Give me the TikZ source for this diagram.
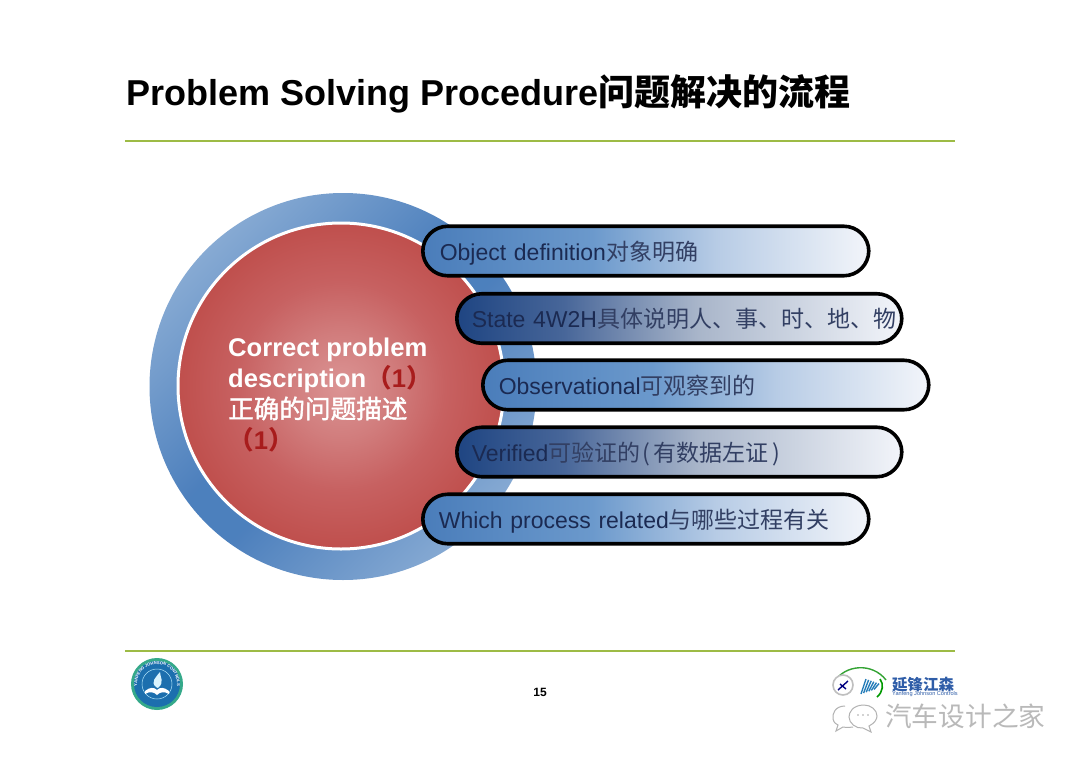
\documentclass[tikz,border=0pt]{standalone}
\usepackage{fontspec}
\setmainfont{Liberation Sans}
\newfontfamily\cjk{Noto Sans CJK SC}
\newfontfamily\cjkmed[FakeBold=1.5]{Noto Sans CJK SC}
\usetikzlibrary{decorations.text}
\definecolor{rulegreen}{HTML}{9DBB45}
\definecolor{navytext}{HTML}{1B2A52}
\definecolor{darkred}{HTML}{A81C1C}
\definecolor{logoblue}{HTML}{1C6FAE}
\definecolor{logogreen}{HTML}{35A98A}
\definecolor{ylogo}{HTML}{2F5DA8}
\pgfdeclareradialshading{redball}{\pgfpoint{0bp}{0bp}}{
  rgb(0bp)=(0.86,0.58,0.58);
  rgb(8bp)=(0.82,0.49,0.49);
  rgb(16bp)=(0.78,0.38,0.38);
  rgb(25bp)=(0.75,0.31,0.30);
  rgb(100bp)=(0.75,0.31,0.30)}
\pgfdeclarehorizontalshading{pilllight}{100bp}{
  rgb(0bp)=(0.29,0.49,0.73);
  rgb(25bp)=(0.29,0.49,0.73);
  rgb(44bp)=(0.42,0.60,0.80);
  rgb(58bp)=(0.72,0.80,0.90);
  rgb(75bp)=(0.95,0.96,0.98);
  rgb(100bp)=(0.95,0.96,0.98)}
\pgfdeclarehorizontalshading{pilldark}{100bp}{
  rgb(0bp)=(0.12,0.27,0.51);
  rgb(25bp)=(0.12,0.27,0.51);
  rgb(37bp)=(0.28,0.40,0.60);
  rgb(52bp)=(0.66,0.71,0.79);
  rgb(75bp)=(0.95,0.96,0.98);
  rgb(100bp)=(0.95,0.96,0.98)}
\pgfdeclarehorizontalshading{ringshade}{100bp}{
  rgb(0bp)=(0.56,0.69,0.84);
  rgb(22bp)=(0.56,0.69,0.84);
  rgb(46bp)=(0.30,0.50,0.74);
  rgb(54bp)=(0.30,0.50,0.74);
  rgb(78bp)=(0.56,0.69,0.84);
  rgb(100bp)=(0.56,0.69,0.84)}
\tikzset{
  x=1pt,y=-1pt,
  pillbox/.style={draw=black,line width=3.6pt,rounded corners=25pt,
    minimum width=#1,minimum height=49.5pt,inner sep=0pt,anchor=west,
    text width=#1,align=left,font=\fontsize{23}{27}\selectfont,text=navytext},
  pilllightbox/.style={pillbox=#1,shading=pilllight},
  pilldarkbox/.style={pillbox=#1,shading=pilldark},
  rulefine/.style={draw=rulegreen,line width=1.6pt},
}
\newcommand{\ch}[1]{{\cjk\color{navytext!90!white}#1}}
\newcommand{\pilltext}[2]{\hspace*{#1}\raisebox{-9.3pt}[0pt][0pt]{#2}}
\begin{document}
\begin{tikzpicture}
\useasboundingbox (0,0) rectangle (1080,764);
\fill[white] (0,0) rectangle (1080,764);
% title
\node[anchor=west,inner sep=0pt,font=\fontsize{36}{40}\selectfont\bfseries,text=black] (title) at (126,93.5)
  {Problem Solving Procedure{\cjk 问题解决的流程}};
\coordinate (tl) at (125,141); \coordinate (tr) at (955,141);
\coordinate (bl) at (125,651); \coordinate (br) at (955,651);
\draw[rulefine] (tl) -- (tr);
\draw[rulefine] (bl) -- (br);
% circles
\node[circle,minimum size=387pt,inner sep=0pt,shading=ringshade,shading angle=-45] (ring) at (343,386.5) {};
\node[circle,minimum size=326pt,inner sep=0pt,draw=white,line width=3pt,shading=redball] (ball) at (341,386) {};
\node[anchor=north west,inner sep=0pt,align=left,text=white,font=\fontsize{25.6}{31}\selectfont\bfseries] (ctext) at (228,337.5)
  {Correct problem\\description{\cjk\color{darkred}（}{\color{darkred}1}{\cjk\color{darkred}）}\\{\mdseries\cjkmed 正确的问题描述}\\{\cjk\color{darkred}（}{\color{darkred}1}{\cjk\color{darkred}）}};
% pills
\node[pilllightbox=446pt] (p1) at (421,251) {\pilltext{17pt}{Object definition\ch{对象明确}}};
\node[pilldarkbox=445pt] (p2) at (455,318.5) {\pilltext{15pt}{State 4W2H\ch{具体说明人、事、时、地、物}}};
\node[pilllightbox=446pt] (p3) at (481,385) {\pilltext{16pt}{Observational\ch{可观察到的}}};
\node[pilldarkbox=445pt] (p4) at (455,452) {\pilltext{15pt}{Verified\ch{可验证的\hspace{2pt}(\hspace{3pt}有数据左证\hspace{4pt})}}};
\node[pilllightbox=446pt] (p5) at (421,519) {\pilltext{16pt}{Which process related\ch{与哪些过程有关}}};
% page number
\node[inner sep=0pt,font=\fontsize{12}{14}\selectfont\bfseries] (pg) at (540,692) {15};
% left logo
\node[circle,minimum size=52pt,inner sep=0pt,fill=logogreen] (lg) at (157,684) {};
\node[circle,minimum size=46pt,inner sep=0pt,fill=logoblue] (lg2) at (157,684) {};
\node[circle,minimum size=30pt,inner sep=0pt,fill=logoblue,draw=white!70!cyan,line width=.5pt] (lg3) at (157,684) {};
\fill[white] (145,691) .. controls (150,687) and (154,687) .. (157,690) .. controls (160,687) and (164,687) .. (169,691) -- (169,694) .. controls (164,691) and (160,692) .. (157,695) .. controls (154,692) and (150,691) .. (145,694) -- cycle;
\fill[white!85!cyan] (156,687) .. controls (150,682) and (156,677) .. (160,672) .. controls (160,677) and (165,682) .. (158,688) -- cycle;
\path[postaction={decorate,decoration={text along path,text align=center,
   text={|\fontsize{4.2}{5}\selectfont\bfseries\color{white}|YANFENG JOHNSON CONTROLS}}}]
   (138,690) arc[start angle=163,end angle=377,radius=20];
% right logo
\draw[draw=green!55!black!80!white,line width=1.4pt] (835,681) .. controls (845,665) and (872,662) .. (886,680);
\node[circle,minimum size=20pt,inner sep=0pt,draw=gray!50,line width=1.6pt,fill=white] (rl1) at (843,685) {};
\draw[draw=blue!50!black,line width=1.4pt] (838,690) -- (848,681) (840,684) -- (846,689);
\foreach \d in {0,2.6,5.2,7.8,10.4,13}{
  \draw[ylogo!80!cyan,line width=1.4pt] (861+\d,694-\d*.35) -- (866+\d,679+\d*.35);
}
\draw[green!60!black,line width=1.6pt] (880,679) .. controls (884,684) and (883,692) .. (877,697);
\node[anchor=west,inner sep=0pt,text=ylogo,font=\fontsize{15.5}{16}\selectfont] (rl3) at (892,685) {\cjk\bfseries 延锋江森};
\node[anchor=west,inner sep=0pt,text=ylogo,font=\fontsize{5.6}{6}\selectfont] (rl4) at (892,694) {Yanfeng Johnson Controls};
% watermark
\draw[gray!60,line width=1pt] (845,706) .. controls (835,706) and (832,714) .. (833,719) .. controls (834,723) and (836,724) .. (838,725) -- (836,731) -- (843,727) .. controls (848,728) and (851,727) .. (853,727);
\draw[gray!60,line width=1pt,fill=white] (864,705) .. controls (853,705) and (849,712) .. (849,717) .. controls (849,723) and (856,729) .. (863,728) -- (871,732) -- (869,726) .. controls (875,723) and (877,719) .. (877,716) .. controls (877,710) and (871,705) .. (864,705) -- cycle;
\foreach \a in {858,863,868}{\fill[gray!70] (\a,715) circle (.9);}
\node[anchor=west,inner sep=0pt,text=gray!55,font=\fontsize{26.7}{28}\selectfont] (wm) at (885,716) {\cjk 汽车设计之家};
\end{tikzpicture}
\end{document}
